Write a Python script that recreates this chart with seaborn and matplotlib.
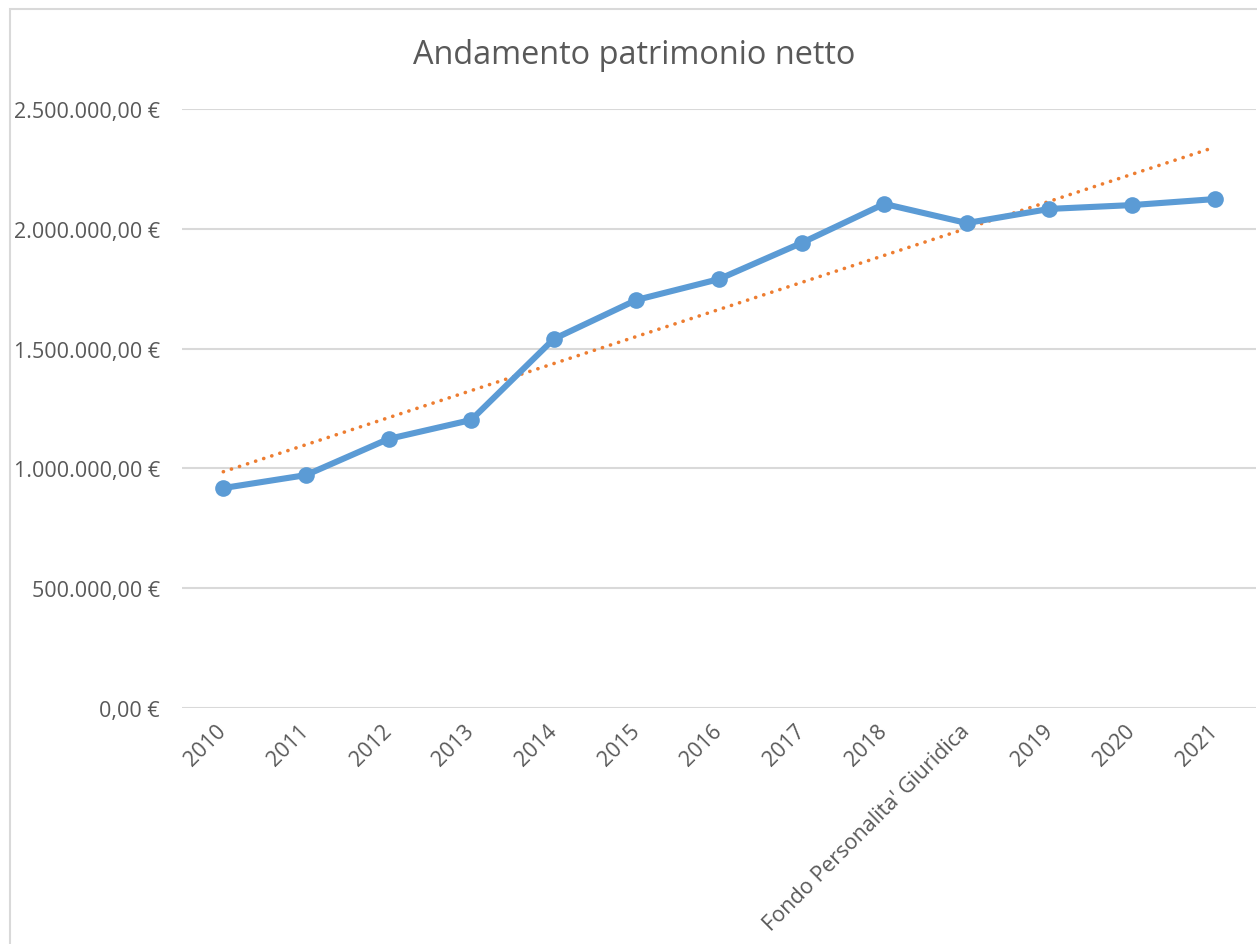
import numpy as np
import pandas as pd
import seaborn as sns
import matplotlib.pyplot as plt
from matplotlib.patches import Rectangle
from matplotlib.ticker import FuncFormatter

categories = ["2010", "2011", "2012", "2013", "2014", "2015", "2016", "2017",
              "2018", "Fondo Personalita' Giuridica", "2019", "2020", "2021"]
patrimonio = [918000, 972000, 1123000, 1202000, 1540000, 1703000, 1790000,
              1941000, 2104000, 2024000, 2083000, 2099000, 2124000]
y_ticks = [0, 500000, 1000000, 1500000, 2000000, 2500000]

BLUE = "#5B9BD5"
ORANGE = "#ED7D31"
GRID = "#D9D9D9"
TEXT = "#595959"


def euro(v, pos=None):
    s = f"{v:,.2f}".replace(",", "X").replace(".", ",").replace("X", ".")
    return s + " €"


sns.set_theme(style="white")
plt.rcParams["font.family"] = ["Open Sans", "DejaVu Sans"]

df = pd.DataFrame({"pos": np.arange(len(categories)), "valore": patrimonio})

W, H = 1257, 945
fig = plt.figure(figsize=(W / 100, H / 100), dpi=100)
ax = fig.add_axes([182 / W, (H - 709) / H, (1256 - 182) / W, (709 - 110) / H])

# trend line (linear fit, like the Excel trendline)
coef = np.polyfit(df["pos"], df["valore"], 1)
trend = np.polyval(coef, df["pos"])
ax.plot(df["pos"], trend, color=ORANGE, lw=2.6, linestyle=(0, (0.05, 2.3)),
        dash_capstyle="round", zorder=2)

sns.lineplot(data=df, x="pos", y="valore", ax=ax, color=BLUE, lw=4.4,
             marker="o", markersize=12, markeredgewidth=0, zorder=3)

ax.set_xlim(-0.5, len(categories) - 0.5)
ax.set_ylim(0, 2500000)
ax.set_yticks(y_ticks)
ax.yaxis.set_major_formatter(FuncFormatter(euro))
ax.set_xticks(df["pos"])
ax.set_xticklabels(categories, rotation=45, ha="right", va="center",
                   rotation_mode="anchor")
ax.tick_params(axis="y", length=0, pad=16, labelsize=15.5, labelcolor=TEXT)
ax.tick_params(axis="x", length=0, pad=14, labelsize=15.5, labelcolor=TEXT)
ax.grid(axis="y", color=GRID, lw=1.5)
ax.set_axisbelow(True)
for sp in ax.spines.values():
    sp.set_visible(False)
ax.set_xlabel("")
ax.set_ylabel("")

fig.text(634 / W, 1 - 56 / H, "Andamento patrimonio netto", ha="center",
         va="center", fontsize=23.4, color=TEXT)

fig.add_artist(Rectangle((10 / W, -0.1), 1.2, 1 - 10 / H + 0.1,
                         transform=fig.transFigure, fill=False,
                         edgecolor=GRID, lw=1.5))

fig.savefig("out.png", dpi=100, facecolor="white")
